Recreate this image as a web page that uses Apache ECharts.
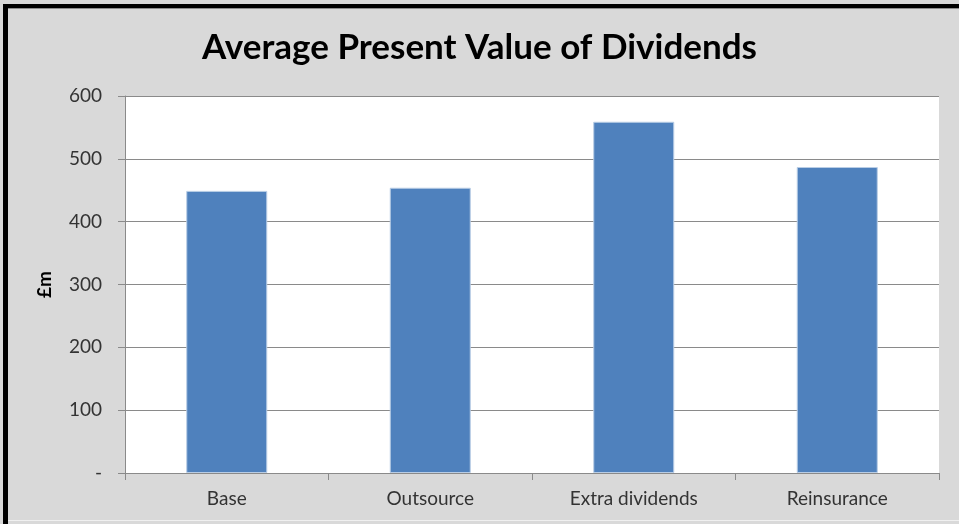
<!DOCTYPE html>
<html>
<head>
<meta charset="utf-8">
<script src="https://cdn.jsdelivr.net/npm/echarts@6/dist/echarts.min.js"></script>
<style>
  html, body { margin: 0; padding: 0; background: #d9d9d9; }
  #wrap { position: relative; width: 959px; height: 524px; overflow: hidden; }
  #chart { position: absolute; left: 0; top: 0; width: 959px; height: 524px; }
  .edge { position: absolute; background: #000; }
</style>
</head>
<body>
<div id="wrap">
  <div id="chart"></div>
  <div class="edge" style="left:3px;top:4px;width:956px;height:4px;"></div>
  <div class="edge" style="left:3px;top:4px;width:5px;height:520px;"></div>
  <div class="edge" style="left:8px;top:8px;width:951px;height:1px;background:#8c8c8c;"></div>
  <div class="edge" style="left:8px;top:520px;width:951px;height:1px;background:#f0f0f0;"></div>
</div>
<script>
const categories = ["Base", "Outsource", "Extra dividends", "Reinsurance"];
const values = [449, 454, 559, 487];
const yTicks = [0, 100, 200, 300, 400, 500, 600];

const chart = echarts.init(document.getElementById("chart"));
const fontFamily = "Lato, 'Open Sans', sans-serif";

chart.setOption({
  backgroundColor: "transparent",
  animation: false,
  title: {
    text: "Average Present Value of Dividends",
    left: "center",
    top: 25,
    textStyle: {
      fontFamily,
      fontSize: 35,
      fontWeight: "bold",
      color: "#000"
    }
  },
  grid: {
    left: 125,
    right: 20,
    top: 96,
    bottom: 51,
    show: true,
    backgroundColor: "#fff",
    borderWidth: 0
  },
  xAxis: {
    type: "category",
    data: categories,
    axisLine: { lineStyle: { color: "#8a8a8a", width: 1 } },
    axisTick: { show: true, length: 7, lineStyle: { color: "#8a8a8a" } },
    axisLabel: {
      margin: 16,
      fontFamily,
      fontSize: 19,
      color: "#333"
    }
  },
  yAxis: {
    type: "value",
    min: yTicks[0],
    max: yTicks[yTicks.length - 1],
    interval: 100,
    name: "£m",
    nameLocation: "middle",
    nameRotate: 90,
    nameGap: 71,
    nameTextStyle: {
      fontFamily,
      fontSize: 19,
      fontWeight: "bold",
      color: "#000"
    },
    axisLine: { show: true, lineStyle: { color: "#8a8a8a", width: 1 } },
    axisTick: { show: true, length: 7, lineStyle: { color: "#8a8a8a" } },
    splitLine: { lineStyle: { color: "#8a8a8a", width: 1 } },
    axisLabel: {
      margin: 23,
      fontFamily,
      fontSize: 19,
      color: "#333",
      formatter: (v) => (v === 0 ? "-" : String(v))
    }
  },
  series: [
    {
      type: "bar",
      data: values,
      barWidth: 81,
      itemStyle: {
        color: "#4f81bd",
        borderColor: "#b9cde5",
        borderWidth: 1
      }
    }
  ]
});
</script>
</body>
</html>
